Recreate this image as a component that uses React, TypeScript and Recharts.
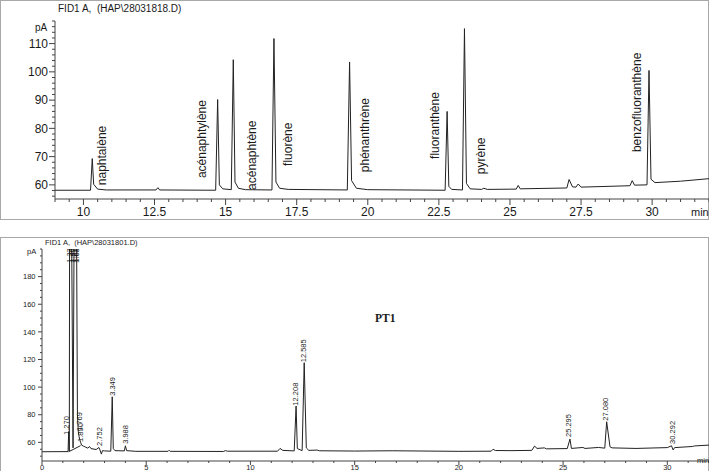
import React from 'react';
import { ComposedChart, Line, Scatter, XAxis, YAxis } from 'recharts';

// ---- top trace: HAP standard (28031818.D) ----
const topTrace = [
  { t: 9.0, v: 58.1 }, { t: 10.25, v: 58.1 }, { t: 10.31, v: 69.3 }, { t: 10.36, v: 60.2 },
  { t: 10.5, v: 58.5 }, { t: 10.8, v: 58.2 }, { t: 12.55, v: 58.2 }, { t: 12.62, v: 59.0 },
  { t: 12.68, v: 58.2 }, { t: 14.65, v: 58.1 }, { t: 14.72, v: 90.2 }, { t: 14.78, v: 60.0 },
  { t: 14.9, v: 58.6 }, { t: 15.2, v: 58.3 }, { t: 15.27, v: 104.3 }, { t: 15.33, v: 61.0 },
  { t: 15.45, v: 58.8 }, { t: 15.7, v: 58.3 }, { t: 16.63, v: 58.2 }, { t: 16.7, v: 111.8 },
  { t: 16.77, v: 61.0 }, { t: 16.9, v: 58.8 }, { t: 17.2, v: 58.4 }, { t: 19.28, v: 58.2 },
  { t: 19.36, v: 103.5 }, { t: 19.43, v: 61.5 }, { t: 19.6, v: 58.8 }, { t: 20.0, v: 58.3 },
  { t: 22.72, v: 58.1 }, { t: 22.79, v: 86.0 }, { t: 22.85, v: 59.5 }, { t: 22.95, v: 58.4 },
  { t: 23.33, v: 58.2 }, { t: 23.4, v: 115.3 }, { t: 23.47, v: 60.5 }, { t: 23.6, v: 58.6 },
  { t: 24.0, v: 58.4 }, { t: 24.08, v: 58.8 }, { t: 24.2, v: 58.4 }, { t: 25.22, v: 58.5 },
  { t: 25.29, v: 59.8 }, { t: 25.36, v: 58.6 }, { t: 27.0, v: 58.9 }, { t: 27.08, v: 61.9 },
  { t: 27.2, v: 59.3 }, { t: 27.32, v: 59.2 }, { t: 27.4, v: 60.3 }, { t: 27.5, v: 59.2 },
  { t: 29.22, v: 59.7 }, { t: 29.3, v: 61.5 }, { t: 29.38, v: 59.9 }, { t: 29.82, v: 60.0 },
  { t: 29.89, v: 100.5 }, { t: 29.96, v: 62.0 }, { t: 30.1, v: 60.8 }, { t: 31.0, v: 61.3 },
  { t: 32.0, v: 62.2 },
];

const topNames = [
  { t: 10.64, v: 59.9, name: 'naphtalène' },
  { t: 14.17, v: 62.4, name: 'acénaphtylène' },
  { t: 15.93, v: 58.2, name: 'acénaphtène' },
  { t: 17.2, v: 66.7, name: 'fluorène' },
  { t: 19.9, v: 64.5, name: 'phénanthrène' },
  { t: 22.37, v: 69.2, name: 'fluoranthène' },
  { t: 23.98, v: 63.8, name: 'pyrène' },
  { t: 29.46, v: 71.6, name: 'benzofluoranthène' },
];

const topXLabels = [10, 12.5, 15, 17.5, 20, 22.5, 25, 27.5, 30];
const topYLabels = [60, 70, 80, 90, 100, 110];

// ---- bottom trace: sample PT1 (28031801.D) ----
const bottomTrace = [
  { t: 0, v: 53.2 }, { t: 1.25, v: 53.3 }, { t: 1.28, v: 67.7 }, { t: 1.31, v: 53.8 },
  { t: 1.34, v: 400 }, { t: 1.49, v: 56.0 }, { t: 1.6, v: 400 }, { t: 1.7, v: 80 },
  { t: 1.74, v: 68 }, { t: 1.78, v: 64 }, { t: 1.85, v: 60 }, { t: 1.9, v: 58 },
  { t: 2.0, v: 57.2 }, { t: 2.1, v: 56.5 }, { t: 2.2, v: 55.8 }, { t: 2.28, v: 57.0 },
  { t: 2.35, v: 55.5 }, { t: 2.6, v: 54.8 }, { t: 2.73, v: 56.3 }, { t: 2.78, v: 54.5 },
  { t: 2.85, v: 51.5 }, { t: 2.9, v: 54.0 }, { t: 3.0, v: 53.8 }, { t: 3.3, v: 53.6 },
  { t: 3.37, v: 93.0 }, { t: 3.42, v: 55.5 }, { t: 3.5, v: 54.0 }, { t: 3.95, v: 53.8 },
  { t: 4.0, v: 57.5 }, { t: 4.06, v: 54.0 }, { t: 4.5, v: 53.5 }, { t: 6.05, v: 53.5 },
  { t: 6.1, v: 54.3 }, { t: 6.15, v: 53.5 }, { t: 8.7, v: 53.4 }, { t: 8.8, v: 54.0 },
  { t: 8.9, v: 53.6 }, { t: 11.3, v: 53.6 }, { t: 11.42, v: 55.6 }, { t: 11.55, v: 54.2 },
  { t: 12.1, v: 53.8 }, { t: 12.19, v: 86.3 }, { t: 12.25, v: 55.5 }, { t: 12.48, v: 54.0 },
  { t: 12.58, v: 117.7 }, { t: 12.68, v: 56.0 }, { t: 12.8, v: 54.2 }, { t: 13.2, v: 54.4 },
  { t: 13.3, v: 53.9 }, { t: 15.0, v: 53.7 }, { t: 16.8, v: 53.9 }, { t: 20.0, v: 53.5 },
  { t: 21.55, v: 53.6 }, { t: 21.64, v: 55.0 }, { t: 21.75, v: 54.1 }, { t: 22.5, v: 54.0 },
  { t: 23.5, v: 54.2 }, { t: 23.63, v: 57.3 }, { t: 23.75, v: 55.6 }, { t: 24.1, v: 56.0 },
  { t: 24.2, v: 55.3 }, { t: 25.2, v: 55.5 }, { t: 25.33, v: 62.4 }, { t: 25.4, v: 55.6 },
  { t: 25.95, v: 56.3 }, { t: 26.05, v: 55.6 }, { t: 26.7, v: 56.3 }, { t: 27.0, v: 55.8 },
  { t: 27.09, v: 74.9 }, { t: 27.25, v: 56.8 }, { t: 27.35, v: 56.0 }, { t: 28.5, v: 55.6 },
  { t: 30.0, v: 56.2 }, { t: 30.2, v: 57.5 }, { t: 30.28, v: 54.5 }, { t: 30.35, v: 56.2 },
  { t: 31.2, v: 57.0 }, { t: 31.3, v: 57.4 }, { t: 32.0, v: 58.0 },
];

const bottomBaseline = [
  { t: 1.28, v: 53.2 }, { t: 1.85, v: 57.6 },
];

const bottomPeaks = [
  { t: 1.16, v: 65.4, name: '1.270' },
  { t: 1.33, v: 190, name: '1.331' },
  { t: 1.43, v: 190, name: '1.463' },
  { t: 1.52, v: 190, name: '1.572' },
  { t: 1.6, v: 190, name: '1.611' },
  { t: 1.67, v: 190, name: '1.681' },
  { t: 1.8, v: 68.3, name: '1.769' },
  { t: 1.83, v: 60.3, name: '1.890' },
  { t: 2.77, v: 57.4, name: '2.752' },
  { t: 3.36, v: 93.7, name: '3.349' },
  { t: 4.0, v: 58.9, name: '3.988' },
  { t: 12.17, v: 86.6, name: '12.208' },
  { t: 12.55, v: 118.0, name: '12.585' },
  { t: 25.26, v: 63.9, name: '25.295' },
  { t: 27.02, v: 75.7, name: '27.080' },
  { t: 30.23, v: 58.9, name: '30.292' },
];

const bottomXLabels = [0, 5, 10, 15, 20, 25, 30];
const bottomYLabels = [60, 80, 100, 120, 140, 160, 180];

const FONT = '"Liberation Sans", Arial, sans-serif';
const INK = '#1a1a1a';
const AXIS = '#444';

const steps = (from: number, to: number, step: number) => {
  const out: number[] = [];
  for (let k = 0; from + k * step <= to + 1e-9; k++) out.push(+(from + k * step).toFixed(2));
  return out;
};

const topXTicks = steps(9, 32, 0.5);
const topYTicks = steps(56, 118, 2);
const bottomXTicks = steps(0, 32, 1);
const bottomYTicks = steps(50, 200, 5);

const makeXTick = (labels: number[], major: number, minor: number, dy: number, size: number) =>
  (props: any) => {
    const { x, y, payload } = props;
    const isMajor = labels.includes(payload.value);
    return (
      <g>
        <line x1={x} y1={y} x2={x} y2={y + (isMajor ? major : minor)} stroke={AXIS} />
        {isMajor && (
          <text x={x} y={y + dy} textAnchor="middle" fontSize={size} fontFamily={FONT} fill={INK}>
            {payload.value}
          </text>
        )}
      </g>
    );
  };

const makeYTick = (labels: number[], major: number, minor: number, dx: number, size: number) =>
  (props: any) => {
    const { x, y, payload } = props;
    const isMajor = labels.includes(payload.value);
    return (
      <g>
        <line x1={x - (isMajor ? major : minor)} y1={y} x2={x} y2={y} stroke={AXIS} />
        {isMajor && (
          <text x={x - dx} y={y} dy="0.36em" textAnchor="end" fontSize={size} fontFamily={FONT} fill={INK}>
            {payload.value}
          </text>
        )}
      </g>
    );
  };

const makeRotLabel = (size: number) => (props: any) => {
  const { cx, cy, payload } = props;
  if (cx == null || cy == null) return <g />;
  return (
    <text
      x={cx}
      y={cy}
      dy="0.35em"
      transform={`rotate(-90 ${cx} ${cy})`}
      textAnchor="start"
      fontSize={size}
      fontFamily={FONT}
      fill={INK}
    >
      {payload.name}
    </text>
  );
};

const frame: React.CSSProperties = {
  position: 'absolute',
  left: 0,
  width: 707,
  border: '1px solid #a8a8a8',
  boxSizing: 'content-box',
};

const App: React.FC = () => {
  return (
    <div style={{ position: 'absolute', left: 0, top: 0, width: 709, height: 471, background: '#fff', overflow: 'hidden' }}>
      <div style={{ ...frame, top: 0, height: 218 }} />
      <div style={{ ...frame, top: 237, height: 240 }} />

      <div style={{ position: 'absolute', left: 0, top: 0 }}>
        <ComposedChart width={709} height={219} margin={{ top: 21, right: 0, bottom: 0, left: 0 }}>
          <XAxis
            type="number"
            dataKey="t"
            domain={[9, 32]}
            allowDataOverflow
            ticks={topXTicks}
            interval={0}
            height={20}
            tickSize={0}
            tickMargin={0}
            tickLine={false}
            axisLine={{ stroke: AXIS }}
            tick={makeXTick(topXLabels, 6, 3, 17, 12)}
          />
          <YAxis
            type="number"
            domain={[55, 118]}
            allowDataOverflow
            ticks={topYTicks}
            interval={0}
            width={55}
            tickSize={0}
            tickMargin={0}
            tickLine={false}
            axisLine={{ stroke: AXIS }}
            tick={makeYTick(topYLabels, 6, 3, 7, 12)}
          />
          <Line data={topTrace} dataKey="v" type="linear" stroke="#222" strokeWidth={1} dot={false} activeDot={false} isAnimationActive={false} />
          <Scatter data={topNames} dataKey="v" shape={makeRotLabel(12)} isAnimationActive={false} />
        </ComposedChart>
      </div>

      <div style={{ position: 'absolute', left: 0, top: 237 }}>
        <ComposedChart width={709} height={234} margin={{ top: 12, right: 0, bottom: 0, left: 0 }}>
          <XAxis
            type="number"
            dataKey="t"
            domain={[0, 32]}
            allowDataOverflow
            ticks={bottomXTicks}
            interval={0}
            height={10}
            tickSize={0}
            tickMargin={0}
            tickLine={false}
            axisLine={{ stroke: AXIS }}
            tick={makeXTick(bottomXLabels, 4, 2, 8.5, 7.5)}
          />
          <YAxis
            type="number"
            domain={[46.5, 200]}
            allowDataOverflow
            ticks={bottomYTicks}
            interval={0}
            width={42}
            tickSize={0}
            tickMargin={0}
            tickLine={false}
            axisLine={{ stroke: AXIS }}
            tick={makeYTick(bottomYLabels, 4, 2, 6.5, 7.5)}
          />
          <Line data={bottomTrace} dataKey="v" type="linear" stroke="#222" strokeWidth={1} dot={false} activeDot={false} isAnimationActive={false} />
          <Line data={bottomBaseline} dataKey="v" type="linear" stroke="#222" strokeWidth={1} dot={false} activeDot={false} isAnimationActive={false} />
          <Scatter data={bottomPeaks} dataKey="v" shape={makeRotLabel(7.5)} isAnimationActive={false} />
        </ComposedChart>
      </div>

      <svg width={709} height={471} style={{ position: 'absolute', left: 0, top: 0, pointerEvents: 'none' }}>
        <g fontFamily={FONT} fill={INK}>
          <text x={58} y={11.5} fontSize={10}>{'FID1 A,\u00a0\u00a0(HAP\\28031818.D)'}</text>
          <text x={35} y={31} fontSize={10}>pA</text>
          <text x={691} y={216} fontSize={11}>min</text>
          <text x={45} y={245} fontSize={7.5}>{'FID1 A,\u00a0\u00a0(HAP\\28031801.D)'}</text>
          <text x={27} y={254} fontSize={7.5}>pA</text>
          <text x={697} y={463} fontSize={7.5}>min</text>
        </g>
        <text x={375} y={322} fontSize={11.5} fontWeight="bold" fontFamily='"Liberation Serif", "Times New Roman", serif' fill={INK}>PT1</text>
      </svg>
    </div>
  );
};

export default App;
